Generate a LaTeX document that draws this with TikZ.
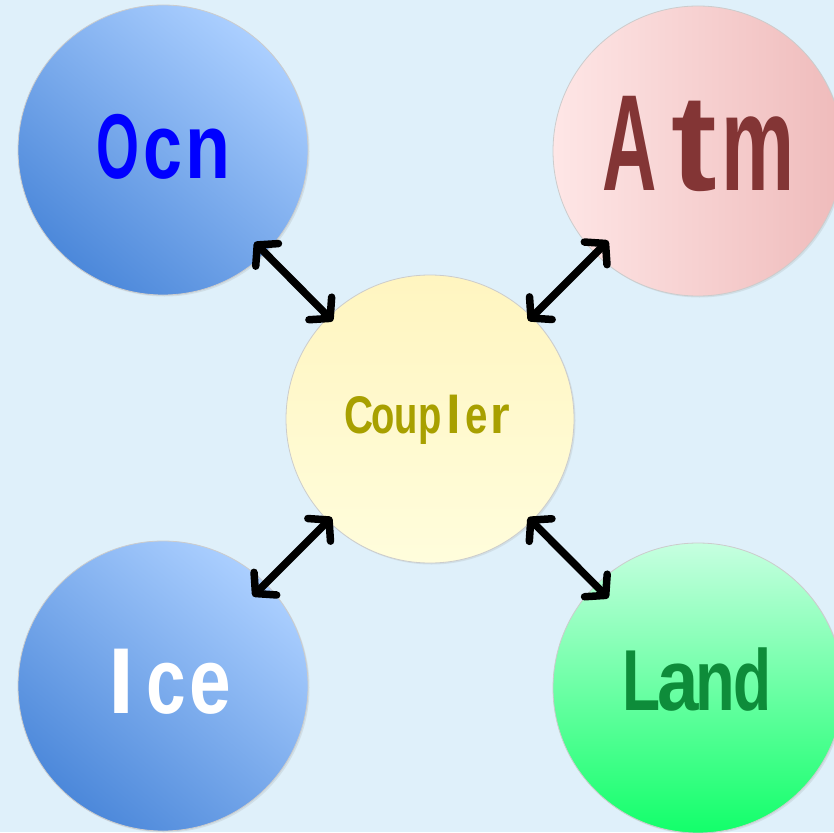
\documentclass[tikz,border=0pt]{standalone}
\usepackage{fontspec}
\usepackage{graphicx}
\setmainfont{Liberation Sans}
\usetikzlibrary{arrows.meta,calc,shadows}
\definecolor{bg}{HTML}{DFF0FA}
\definecolor{ocnD}{HTML}{4C88DA}
\definecolor{ocnL}{HTML}{ABCFFF}
\definecolor{atmL}{HTML}{FEE6E6}
\definecolor{atmD}{HTML}{EFBBBB}
\definecolor{cplT}{HTML}{FFF5C0}
\definecolor{cplB}{HTML}{FFFDDC}
\definecolor{landT}{HTML}{C6FFE0}
\definecolor{landB}{HTML}{12FF6A}
\definecolor{ocnTxt}{HTML}{0000FF}
\definecolor{atmTxt}{HTML}{833535}
\definecolor{cplTxt}{HTML}{A8A000}
\definecolor{landTxt}{HTML}{0E8C3A}
\newlength\cellw
\newcommand\cell[2]{\makebox[\cellw][c]{\scalebox{#1}[1]{#2}}}
\tikzset{
  ball/.style={circle, minimum size=#1, inner sep=0pt, draw=black!20, line width=0.8pt,
    drop shadow={shadow xshift=1.5pt, shadow yshift=-1.5pt, opacity=0.15}},
  ball/.default=290pt,
  lbl/.style={anchor=base, inner sep=0pt},
  linkarrow/.style={draw=black, line width=7.5pt, line cap=round, line join=round,
    {Straight Barb[length=14pt,width=32pt,round]}-{Straight Barb[length=14pt,width=32pt,round]}}
}
\begin{document}
\begin{tikzpicture}[x=1pt,y=1pt]
\fill[bg] (0,0) rectangle (834,-832);
% circles
\node[ball, top color=ocnL, bottom color=ocnD, shading angle=-40] (ocn) at (163,-150) {};
\node[ball, left color=atmL, right color=atmD] (atm) at (698,-151) {};
\node[ball=288pt, top color=cplT, bottom color=cplB] (cpl) at (430,-419) {};
\node[ball, top color=ocnL, bottom color=ocnD, shading angle=-40] (ice) at (163,-686) {};
\node[ball, top color=landT, bottom color=landB] (land) at (698,-688) {};
% labels
\node[lbl, text=ocnTxt, font=\bfseries\fontsize{92pt}{92pt}\selectfont] (ocnt) at (163,-178)
  {\setlength\cellw{45pt}\cell{0.6}{O}\cell{0.76}{c}\cell{0.8}{n}};
\node[lbl, text=atmTxt, font=\bfseries\fontsize{137pt}{137pt}\selectfont] (atmt) at (694,-190)
  {\setlength\cellw{64pt}\cell{0.55}{A}\cell{1.0}{t}\cell{0.6}{m}};
\node[lbl, text=cplTxt, font=\bfseries\fontsize{53pt}{53pt}\selectfont] (cplt) at (430,-433)
  {\setlength\cellw{23.5pt}\cell{0.76}{C}\cell{0.72}{o}\cell{0.72}{u}\cell{0.72}{p}\cell{1}{l}\cell{0.76}{e}\cell{0.95}{r}};
\node[lbl, text=white, font=\bfseries\fontsize{93.6pt}{93.6pt}\selectfont] (icet) at (166,-713)
  {\setlength\cellw{44pt}\cell{1}{I}\cell{0.76}{c}\cell{0.8}{e}};
\node[lbl, text=landTxt, font=\bfseries\fontsize{86.6pt}{86.6pt}\selectfont] (landt) at (697,-710)
  {\setlength\cellw{37pt}\cell{0.72}{L}\cell{0.86}{a}\cell{0.75}{n}\cell{0.72}{d}};
% connectors
\draw[linkarrow] ($(ocn)!130pt!(cpl)$) -- ($(cpl)!138pt!(ocn)$);
\draw[linkarrow] ($(atm)!127pt!(cpl)$) -- ($(cpl)!139pt!(atm)$);
\draw[linkarrow] ($(ice)!127pt!(cpl)$) -- ($(cpl)!139pt!(ice)$);
\draw[linkarrow] ($(land)!127pt!(cpl)$) -- ($(cpl)!139pt!(land)$);
\pgfresetboundingbox
\useasboundingbox (0,0) rectangle (834,-832);
\end{tikzpicture}
\end{document}
